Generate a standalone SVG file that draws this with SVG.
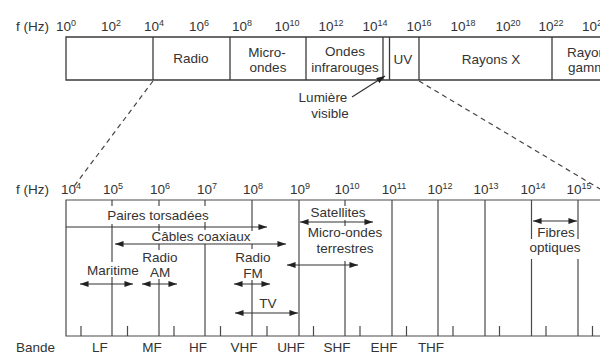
<svg xmlns="http://www.w3.org/2000/svg" width="600" height="361" viewBox="0 0 600 361">
<style>
text{font-family:"Liberation Sans",Arial,sans-serif;font-size:13.5px;fill:#333}
.m{text-anchor:middle}
.sup{font-size:9px}
.ln{stroke:#4a4a4a;stroke-width:1.2;fill:none}
.dk{stroke:#3a3a3a;stroke-width:1.3;fill:none}
.ar{stroke:#333;stroke-width:1.2;fill:none;marker-end:url(#ah)}
.ar2{stroke:#333;stroke-width:1.2;fill:none;marker-end:url(#ah);marker-start:url(#ah)}
.dash{stroke:#444;stroke-width:1.2;fill:none;stroke-dasharray:5 4}
</style>
<defs>
<marker id="ah" viewBox="0 0 10 7" refX="10" refY="3.5" markerUnits="userSpaceOnUse" markerWidth="9" markerHeight="6" orient="auto-start-reverse">
<path d="M0,0 L10,3.5 L0,7 z" fill="#222"/>
</marker>
</defs>
<rect width="600" height="361" fill="#fff"/>

<!-- top scale -->
<g id="top-scale">
<text x="16" y="31">f (Hz)</text>
<text class="m" x="66" y="31">10<tspan class="sup" dy="-5">0</tspan></text>
<text class="m" x="111" y="31">10<tspan class="sup" dy="-5">2</tspan></text>
<text class="m" x="154" y="31">10<tspan class="sup" dy="-5">4</tspan></text>
<text class="m" x="199" y="31">10<tspan class="sup" dy="-5">6</tspan></text>
<text class="m" x="242" y="31">10<tspan class="sup" dy="-5">8</tspan></text>
<text class="m" x="287" y="31">10<tspan class="sup" dy="-5">10</tspan></text>
<text class="m" x="331" y="31">10<tspan class="sup" dy="-5">12</tspan></text>
<text class="m" x="375" y="31">10<tspan class="sup" dy="-5">14</tspan></text>
<text class="m" x="419" y="31">10<tspan class="sup" dy="-5">16</tspan></text>
<text class="m" x="463" y="31">10<tspan class="sup" dy="-5">18</tspan></text>
<text class="m" x="508" y="31">10<tspan class="sup" dy="-5">20</tspan></text>
<text class="m" x="551" y="31">10<tspan class="sup" dy="-5">22</tspan></text>
<text x="582" y="31">10<tspan class="sup" dy="-5">24</tspan></text>
</g>

<g id="top-bar">
<path class="dk" d="M605,37 H66 V80 H605"/>
</g>
<g id="band-low"><path class="dk" d="M153,37 V80"/></g>
<g id="band-radio"><text class="m" x="191" y="63">Radio</text><path class="dk" d="M230,37 V80"/></g>
<g id="band-micro"><text class="m" x="267" y="57">Micro-</text><text class="m" x="268" y="72">ondes</text><path class="dk" d="M306,37 V80"/></g>
<g id="band-ir"><text class="m" x="345" y="56">Ondes</text><text class="m" x="345" y="72">infrarouges</text><path class="dk" d="M383,37 V80"/></g>
<g id="band-visible"><path class="dk" d="M389.5,37 V80"/></g>
<g id="band-uv"><text class="m" x="403" y="64">UV</text><path class="dk" d="M419,37 V80"/></g>
<g id="band-x"><text class="m" x="491" y="64">Rayons X</text><path class="dk" d="M552,37 V80"/></g>
<g id="band-gamma"><text x="567" y="57">Rayons</text><text x="568" y="72">gamma</text></g>
<g id="label-visible"><text class="m" x="323" y="102">Lumière</text><text class="m" x="330" y="118">visible</text></g>

<!-- bottom scale -->
<g id="bottom-scale">
<text x="16" y="194">f (Hz)</text>
<text class="m" x="71" y="194">10<tspan class="sup" dy="-5">4</tspan></text>
<text class="m" x="113" y="194">10<tspan class="sup" dy="-5">5</tspan></text>
<text class="m" x="160" y="194">10<tspan class="sup" dy="-5">6</tspan></text>
<text class="m" x="207" y="194">10<tspan class="sup" dy="-5">7</tspan></text>
<text class="m" x="253" y="194">10<tspan class="sup" dy="-5">8</tspan></text>
<text class="m" x="300" y="194">10<tspan class="sup" dy="-5">9</tspan></text>
<text class="m" x="347" y="194">10<tspan class="sup" dy="-5">10</tspan></text>
<text class="m" x="394" y="194">10<tspan class="sup" dy="-5">11</tspan></text>
<text class="m" x="440" y="194">10<tspan class="sup" dy="-5">12</tspan></text>
<text class="m" x="486" y="194">10<tspan class="sup" dy="-5">13</tspan></text>
<text class="m" x="533" y="194">10<tspan class="sup" dy="-5">14</tspan></text>
<text class="m" x="579" y="194">10<tspan class="sup" dy="-5">15</tspan></text>
</g>

<g id="bottom-frame">
<path class="ln" d="M605,200 H66 V336 H605"/>
<path class="ln" d="M112,200 V206 M112,224 V262 M112,277 V336
M159,200 V206 M159,224 V231 M159,244 V250 M159,279 V336
M205,200 V206 M205,222 V230 M205,244 V336
M252,200 V231 M252,244 V249 M252,280 V336
M299,200 V336
M345,200 V206 M345,220 V226 M345,261 V336
M392,200 V336 M438,200 V336 M485,200 V336
M531.5,200 V239 M531.5,259 V336
M578,200 V239 M578,259 V336"/>
<path class="ln" d="M81,326 V336 M127.5,326 V336 M174,326 V336 M220.5,326 V336 M267,326 V336 M313.5,326 V336 M360,326 V336 M406.5,326 V336 M453,326 V336 M499.5,326 V336 M546,326 V336 M592.5,326 V336"/>
</g>

<g id="bands">
<text x="16" y="352">Bande</text>
<text class="m" x="100" y="352">LF</text>
<text class="m" x="152" y="352">MF</text>
<text class="m" x="198" y="352">HF</text>
<text class="m" x="244" y="352">VHF</text>
<text class="m" x="291" y="352">UHF</text>
<text class="m" x="337" y="352">SHF</text>
<text class="m" x="384" y="352">EHF</text>
<text class="m" x="431" y="352">THF</text>
</g>

<g id="paires"><text class="m" x="158" y="220">Paires torsadées</text></g>
<g id="cables"><text class="m" x="201" y="241">Câbles coaxiaux</text></g>
<g id="maritime"><text class="m" x="113" y="275">Maritime</text></g>
<g id="radio-am"><text class="m" x="160" y="262">Radio</text><text class="m" x="160" y="277">AM</text></g>
<g id="radio-fm"><text class="m" x="253" y="262">Radio</text><text class="m" x="253" y="278">FM</text></g>
<g id="tv"><text class="m" x="268" y="308">TV</text></g>
<g id="satellites"><text class="m" x="338" y="217">Satellites</text></g>
<g id="micro-ondes"><text class="m" x="345" y="237">Micro-ondes</text><text class="m" x="345" y="253">terrestres</text></g>
<g id="fibres"><text class="m" x="556" y="237">Fibres</text><text class="m" x="555" y="252">optiques</text></g>

<g id="connectors">
<path class="dash" d="M153,81 L72,189"/>
<path class="dash" d="M419,81 L600,189"/>
<path class="ar" d="M352,97 L385,76"/>
<path class="ar" d="M66,227 H267"/>
<path class="ar2" d="M115,244 H286"/>
<path class="ar2" d="M80,284 H133"/>
<path class="ar2" d="M142,284 H177"/>
<path class="ar2" d="M234,284 H270"/>
<path class="ar2" d="M235,313 H298"/>
<path class="ar2" d="M300,222 H373"/>
<path class="ar2" d="M287,265 H358"/>
<path class="ar2" d="M533,221 H577"/>
</g>
</svg>
